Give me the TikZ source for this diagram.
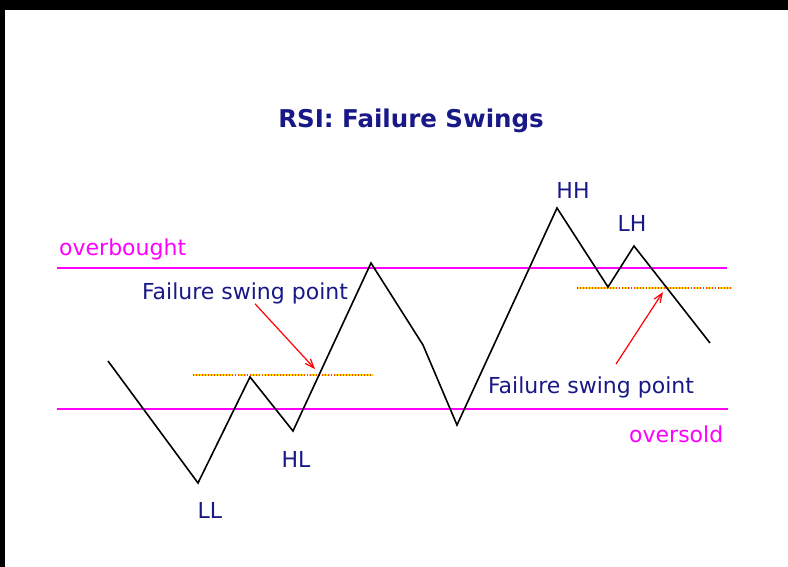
\documentclass[tikz,border=0pt]{standalone}
\usepackage{fontspec}
\setmainfont{DejaVu Sans}
\usetikzlibrary{arrows.meta}
\definecolor{rsinavy}{RGB}{24,24,135}
\definecolor{rsimagenta}{RGB}{255,0,255}
\definecolor{swingyellow}{RGB}{255,225,0}
\definecolor{swingred}{RGB}{255,70,0}

\begin{document}
\begin{tikzpicture}[x=1pt,y=-1pt,
    lbl/.style={text=rsinavy,font=\fontsize{22}{26}\selectfont,inner sep=0pt,anchor=base},
    zone/.style={text=rsimagenta,font=\fontsize{22}{26}\selectfont,inner sep=0pt,anchor=base west},
    level/.style={rsimagenta,line width=2pt},
    swingline/.style={swingyellow,line width=2pt,
        dash pattern=on 40pt off 5pt on 8pt off 5pt on 8pt off 5pt,
        postaction={draw=swingred,line width=1.2pt,dash pattern=on 1.2pt off 1.8pt}},
    pointer/.style={red,line width=1.2pt,-{Straight Barb[length=9pt,width=7pt]}}]
        \useasboundingbox (0,0) rectangle (788,567);
        % black edges of the frame
        \fill (0,0) rectangle (788,10.5);
        \fill (0,0) rectangle (5,567);
        % title
        \node[lbl,font=\fontsize{24.5}{28}\selectfont\bfseries] (title) at (411,128) {RSI: Failure Swings};
        % overbought / oversold levels
        \draw[level] (57,268) -- (727,268);
        \draw[level] (57,409) -- (728,409);
        \node[zone] (ob) at (59,255) {overbought};
        \node[zone] (os) at (629,442) {oversold};
        % swing levels
        \draw[swingline] (193,375) -- (373,375);
        \draw[swingline] (577,288) -- (732,288);
        % RSI path
        \coordinate (start) at (108,361);
        \coordinate (ll) at (198,483);
        \coordinate (bump) at (250,377);
        \coordinate (hl) at (293,431);
        \coordinate (peak) at (371,263);
        \coordinate (bend) at (423,345);
        \coordinate (low) at (457,425);
        \coordinate (hh) at (557,208);
        \coordinate (dip) at (608,287);
        \coordinate (lh) at (634,246);
        \coordinate (finish) at (710,343);
        \draw[line width=1.6pt,line join=miter] (start) -- (ll) -- (bump) -- (hl) -- (peak)
            -- (bend) -- (low) -- (hh) -- (dip) -- (lh) -- (finish);
        % swing labels
        \node[lbl] (llLbl) at (210,518) {LL};
        \node[lbl] (hlLbl) at (296,467) {HL};
        \node[lbl] (hhLbl) at (573,199) {HH};
        \node[lbl] (lhLbl) at (632,232) {LH};
        % failure swing points
        \coordinate (failL) at (315,369);
        \coordinate (failR) at (663,292);
        \node[lbl] (fspL) at (245,299) {Failure swing point};
        \node[lbl] (fspR) at (591,393) {Failure swing point};
        \draw[pointer] ([xshift=10pt]fspL.south) -- (failL);
        \draw[pointer] ([xshift=25pt,yshift=12pt]fspR.north) -- (failR);
    \end{tikzpicture}
\end{document}
